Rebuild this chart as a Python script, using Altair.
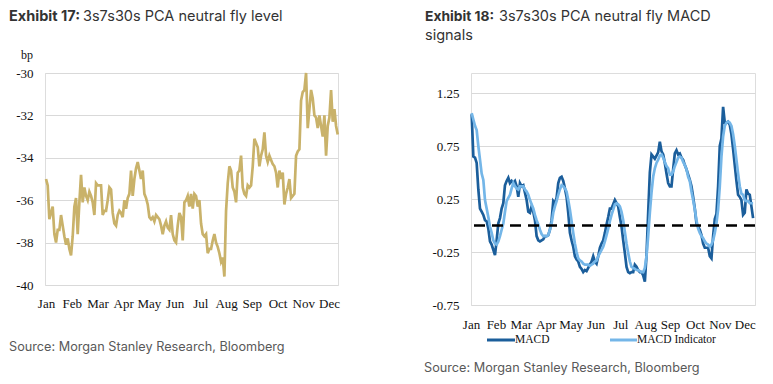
import altair as alt
import pandas as pd

months = ["Jan", "Feb", "Mar", "Apr", "May", "Jun", "Jul", "Aug", "Sep", "Oct", "Nov", "Dec"]

# Exhibit 17: 3s7s30s PCA neutral fly level (bp), sampled evenly through the year
level = [
    -35.0, -35.3, -36.9, -36.6, -36.3, -37.6, -38.0, -37.4, -37.4, -36.7,
    -37.2, -37.7, -38.1, -37.8, -38.3, -38.6, -37.7, -36.3, -35.9, -37.6,
    -36.1, -34.8, -36.1, -35.4, -35.8, -36.0, -35.6, -35.8, -36.1, -36.7,
    -35.2, -35.3, -35.3, -35.3, -36.7, -36.5, -36.5, -36.0, -35.4, -35.5,
    -36.6, -37.1, -37.2, -36.7, -36.5, -36.6, -36.8, -36.0, -36.4, -35.9,
    -35.7, -34.6, -35.8, -35.0, -34.5, -34.2, -34.6, -35.0, -34.6, -35.7,
    -35.9, -36.2, -36.8, -36.9, -36.8, -37.0, -36.7, -36.8, -36.9, -37.2,
    -37.6, -37.2, -37.0, -37.3, -37.4, -36.7, -37.6, -37.9, -38.0, -37.2,
    -36.6, -36.8, -37.9, -36.1, -36.0, -35.8, -36.3, -35.7, -36.4, -35.7,
    -35.8, -36.3, -36.0, -37.1,
    -37.6, -37.7, -37.6, -38.5, -38.3, -38.3, -37.9, -37.6, -38.0, -38.2,
    -38.5, -38.9, -38.7, -39.6, -36.5, -35.2, -34.4, -34.6, -35.4, -35.6,
    -36.1, -34.7, -34.6, -33.9, -35.4, -35.7, -35.8, -35.3, -35.4, -35.3,
    -34.4, -33.1, -33.3, -33.5, -34.4, -33.9, -33.6, -32.8, -33.9, -34.2,
    -33.9, -34.1, -34.3, -34.4, -34.7, -35.4, -34.6, -35.0, -34.7, -36.2,
    -35.7, -35.4, -35.0, -35.9, -35.8, -35.7, -33.9, -33.7, -33.6, -31.3,
    -30.9, -30.8, -30.0, -32.6, -31.7, -30.8, -31.2, -32.0, -32.1, -32.6,
    -32.0, -32.5, -33.0, -32.0, -33.9, -32.5, -32.1, -30.8, -32.3, -31.7,
    -32.5, -32.9,
]

# Exhibit 18: MACD and MACD indicator
macd = [
    1.05, 0.65, 0.64, 0.59, 0.34, 0.16, 0.13, 0.10, 0.05, 0.04,
    -0.03, -0.15, -0.18, -0.23, -0.28, -0.14, 0.02, 0.07, 0.16, 0.21,
    0.38, 0.42, 0.45, 0.40, 0.42, 0.40, 0.42, 0.37, 0.27, 0.40,
    0.37, 0.38, 0.31, 0.24, 0.13, 0.12, 0.18, 0.13, 0.05, -0.10,
    -0.14, -0.15, -0.14, -0.13, -0.10, -0.10, -0.09, -0.04, 0.05, 0.23,
    0.21, 0.26, 0.40, 0.45, 0.46, 0.42, 0.35, 0.27, 0.12, -0.07,
    -0.14, -0.20, -0.29, -0.32, -0.34, -0.39, -0.41, -0.44, -0.42, -0.43,
    -0.40,
    -0.37, -0.34, -0.29, -0.34, -0.36, -0.29, -0.21, -0.17, -0.14, -0.07,
    0.01, 0.08, 0.16, 0.16, 0.20, 0.24, 0.21, 0.18, 0.08, -0.01,
    -0.14, -0.26, -0.39, -0.44, -0.45, -0.44, -0.44, -0.37, -0.39, -0.42,
    -0.44, -0.44, -0.47, -0.53, -0.28, 0.12, 0.50, 0.67, 0.65, 0.63,
    0.66, 0.69, 0.79, 0.70, 0.67, 0.59, 0.49, 0.40, 0.37, 0.37,
    0.53, 0.68, 0.71, 0.67, 0.68, 0.64, 0.62, 0.57, 0.53, 0.48,
    0.43, 0.37, 0.27, 0.16, 0.02, -0.01, -0.04, -0.09, -0.17, -0.21,
    -0.21, -0.21, -0.29, -0.31, -0.10, 0.06, 0.11, 0.37, 0.75, 0.82,
    1.12, 0.97, 0.97, 0.98, 0.95, 0.86, 0.72, 0.57, 0.42, 0.29,
    0.27, 0.24, 0.10, 0.12, 0.34, 0.30, 0.29, 0.18, 0.07,
]
signal = [
    1.06, 1.00, 0.94, 0.90, 0.75, 0.62, 0.49, 0.43, 0.24, 0.16,
    0.08, -0.01, -0.07, -0.14, -0.17, -0.18, -0.15, -0.10, -0.04, 0.02,
    0.13, 0.23, 0.26, 0.29, 0.35, 0.40, 0.37, 0.35, 0.34, 0.37,
    0.37, 0.37, 0.34, 0.32, 0.29, 0.24, 0.20, 0.16, 0.10, 0.05,
    0.01, -0.04, -0.08, -0.10, -0.10, -0.10, -0.09, -0.04, 0.02, 0.12,
    0.18, 0.23, 0.29, 0.34, 0.38, 0.37, 0.35, 0.32, 0.24, 0.15,
    0.04, -0.07, -0.17, -0.25, -0.31, -0.33, -0.34, -0.36, -0.37, -0.37,
    -0.37,
    -0.38, -0.37, -0.36, -0.34, -0.33, -0.29, -0.26, -0.23, -0.20, -0.15,
    -0.09, -0.03, 0.04, 0.10, 0.15, 0.20, 0.21, 0.20, 0.18, 0.13,
    0.05, -0.06, -0.17, -0.26, -0.34, -0.39, -0.40, -0.41, -0.42, -0.42,
    -0.43, -0.44, -0.44, -0.40, -0.29, -0.10, 0.12, 0.31, 0.46, 0.54,
    0.59, 0.62, 0.66, 0.67, 0.64, 0.60, 0.56, 0.54, 0.48, 0.48,
    0.51, 0.56, 0.60, 0.64, 0.65, 0.64, 0.60, 0.57, 0.53, 0.46,
    0.42, 0.32, 0.24, 0.15, 0.05, -0.03, -0.07, -0.10, -0.12, -0.15,
    -0.17, -0.18, -0.20, -0.18, -0.14, -0.07, 0.02, 0.15, 0.37, 0.65,
    0.84, 0.94, 0.97, 0.98, 0.97, 0.94, 0.86, 0.75, 0.62, 0.49,
    0.37, 0.30, 0.29, 0.24, 0.23, 0.23, 0.21, 0.21, 0.21,
]

series_names = ["MACD", "MACD Indicator"]
series_colors = ["#1B5E9B", "#74B6E8"]
gold = "#C9B26A"

SANS = "Inter"
SERIF = "Liberation Serif"
TXT = "#333333"
GRID = "#D9D9D9"
month_expr = "['Jan','Feb','Mar','Apr','May','Jun','Jul','Aug','Sep','Oct','Nov','Dec'][datum.value]"

one = pd.DataFrame([{"k": 0}])


def txt(text, x, y, size=14.5, weight="normal", color=TXT, font=SANS, baseline="alphabetic"):
    return alt.Chart(one).mark_text(text=text, align="left", baseline=baseline, font=font,
                                    fontSize=size, fontWeight=weight, color=color).encode(
        x=alt.value(x), y=alt.value(y))


def seg(x1, x2, y, color):
    return alt.Chart(one).mark_rule(color=color, strokeWidth=3).encode(
        x=alt.value(x1), x2=alt.value(x2), y=alt.value(y))


def month_axis(pad):
    return alt.Axis(values=list(range(12)), labelExpr=month_expr, title=None, grid=False,
                    domain=False, ticks=False, labelFont=SERIF, labelFontSize=13,
                    labelColor="#111", labelPadding=pad, labelOverlap=False,
                    labelFlush=False, labelBound=False)


TITLE_Y = -52

# ---------------- Left panel ----------------
df_left = pd.DataFrame({"m": [i * 0.0648 for i in range(len(level))], "v": level})
LW, LH = 293, 212

x_left = alt.X("m:Q", scale=alt.Scale(domain=[-0.04, 11.35], nice=False, zero=False),
               axis=month_axis(12))
y_left = alt.Y("v:Q", scale=alt.Scale(domain=[-40, -30], nice=False, zero=False),
               axis=alt.Axis(values=[-40, -38, -36, -34, -32, -30], labelExpr="'' + datum.value",
                             title=None, grid=True, gridColor=GRID, gridWidth=1, domain=False,
                             ticks=False, labelFont=SERIF, labelFontSize=13, labelColor="#111",
                             labelPadding=12))

left_line = alt.Chart(df_left).mark_line(color=gold, strokeWidth=2.7).encode(x=x_left, y=y_left)

left = alt.layer(
    left_line,
    txt("Exhibit 17:", -36, TITLE_Y, weight="bold"),
    txt("3s7s30s PCA neutral fly level", 38, TITLE_Y),
    txt("bp", -24, -18, size=12, font=SERIF, color="#111", baseline="middle"),
    txt("Source: Morgan Stanley Research, Bloomberg", -36, 274, size=12.7, color="#595959",
        baseline="middle"),
).properties(width=LW, height=LH)

# ---------------- Right panel ----------------
n = len(macd)
xs = [0.027 + i * 0.0669 for i in range(n)]
df_right = pd.DataFrame({
    "m": xs + xs,
    "v": macd + signal,
    "s": [series_names[0]] * n + [series_names[1]] * n,
})
RW, RH = 284, 232

x_right = alt.X("m:Q", scale=alt.Scale(domain=[0, 11.41], nice=False, zero=False),
                axis=month_axis(13))
y_right = alt.Y("v:Q", scale=alt.Scale(domain=[-0.75, 1.25], range=[232, 20], nice=False, zero=False),
                axis=alt.Axis(values=[-0.75, -0.25, 0.25, 0.75, 1.25],
                              labelExpr="replace(format(datum.value, '.2f'), '\u2212', '-')",
                              title=None, grid=True, gridColor=GRID, gridWidth=1, domain=False,
                              ticks=False, labelFont=SERIF, labelFontSize=13, labelColor="#111",
                              labelPadding=12))

right_lines = alt.Chart(df_right).mark_line(strokeWidth=2.7).encode(
    x=x_right, y=y_right,
    color=alt.Color("s:N", scale=alt.Scale(domain=series_names, range=series_colors), legend=None),
)

zero_rule = alt.Chart(pd.DataFrame({"z": [0.0]})).mark_rule(
    color="#000000", strokeWidth=2.5, strokeDash=[11, 7]).encode(y="z:Q")

right = alt.layer(
    right_lines,
    zero_rule,
    seg(16, 44, 267, series_colors[0]),
    txt(series_names[0], 44, 267, size=11.5, font=SERIF, color="#111", baseline="middle"),
    seg(139, 166, 267, series_colors[1]),
    txt(series_names[1], 166, 267, size=11.5, font=SERIF, color="#111", baseline="middle"),
    txt("Exhibit 18:", -46, TITLE_Y, size=13.8, weight="bold"),
    txt("3s7s30s PCA neutral fly MACD", 28, TITLE_Y),
    txt("signals", -46, TITLE_Y + 18.5),
    txt("Source: Morgan Stanley Research, Bloomberg", -47, 295, size=12.7, color="#595959",
        baseline="middle"),
).properties(width=RW, height=RH)

chart = alt.hconcat(left, right, spacing=79).properties(padding=0).configure_view(
    stroke=None).configure(background="white")

chart.save("out.html", embed_options={"renderer": "svg", "actions": False})
